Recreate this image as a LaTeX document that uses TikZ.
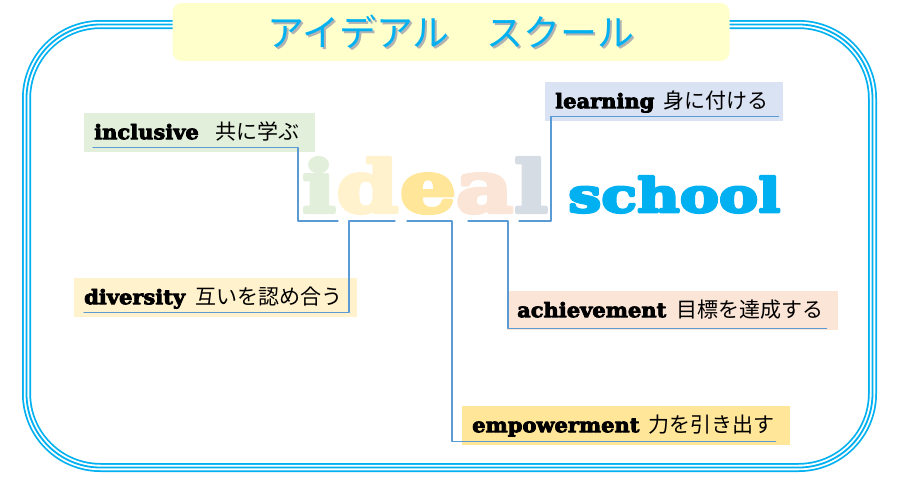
\documentclass[tikz,border=0pt]{standalone}
\usepackage{fontspec}
\usetikzlibrary{positioning}
\newfontfamily\slab[FakeBold=4, FakeStretch=1.05]{DejaVu Serif Bold}
\newfontfamily\wide[FakeBold=6, FakeStretch=1.25]{DejaVu Serif Bold}
\newfontfamily\jp{Noto Sans CJK JP}
\newcommand\eng[1]{{\slab\fontsize{20}{20}\selectfont #1}}
\definecolor{cSky}{HTML}{00B0F0}
\definecolor{cTitle}{HTML}{FFFFCC}
\definecolor{cLink}{HTML}{5B9BD5}
\definecolor{cInc}{HTML}{E2EFDA}
\definecolor{cDiv}{HTML}{FFF2CC}
\definecolor{cEmp}{HTML}{FFE699}
\definecolor{cAch}{HTML}{FBE5D6}
\definecolor{cLea}{HTML}{DAE3F3}
\definecolor{cEll}{HTML}{D6DCE4}
\begin{document}
\begin{tikzpicture}[x=1pt,y=-1pt, line join=round, line cap=round,
    frame/.style={rounded corners=74pt},
    tag/.style={anchor=north west, inner xsep=10pt, inner ysep=0pt, text height=26pt, text depth=13pt,
        font=\jp\fontsize{21}{21}\selectfont, execute at end node={\hspace{5pt}}},
    link/.style={draw=cLink, line width=1.1pt},
    letter/.style={anchor=base, inner sep=0pt, font=\wide\fontsize{71}{71}\selectfont}]
    \def\yb{9} % bracket below baseline
    \useasboundingbox (0,0) rectangle (900,479);
    % frame
    \draw[frame, cSky, line width=9pt] (26.5,24.5) rectangle (872.5,467.5);
    \draw[frame, white, line width=5.5pt] (26.5,24.5) rectangle (872.5,467.5);
    \draw[frame, cSky, line width=1.8pt] (26.5,24.5) rectangle (872.5,467.5);
    % title
    \node[fill=cTitle, rounded corners=9pt, minimum width=557pt, minimum height=58pt] (title) at (451,32) {};
    \node[text=black!30, font=\jp\fontsize{37}{37}\selectfont] at ([xshift=2pt,yshift=-2pt]title.center) {アイデアル　スクール};
    \node[text=cSky, font=\jp\fontsize{37}{37}\selectfont] (head) at (title.center) {アイデアル　スクール};
    % ideal school
    \node[letter, text=cInc] (li) at (319,212) {i};
    \node[letter, text=cDiv] (ld) at (367.5,212) {d};
    \node[letter, text=cEmp] (le) at (428,212) {e};
    \node[letter, text=cAch] (la) at (484.5,212) {a};
    \node[letter, text=cEll] (ll) at (531,212) {l};
    \node[anchor=base west, inner sep=0pt, text=cSky, font=\wide\fontsize{47}{47}\selectfont,
        base right=20pt of ll] (school) {school};
    \foreach \n/\l/\r in {li/-21/19, ld/-18.5/27.5, le/-21/24, la/-16.5/23.5, ll/-12/20}{
        \coordinate (\n-a) at ([xshift=\l pt,yshift=-\yb pt]\n.base);
        \coordinate (\n-b) at ([xshift=\r pt,yshift=-\yb pt]\n.base);
    }
    % labels
    \node[tag, fill=cInc] (inc) at (84,113) {\eng{inclusive}\hspace{17pt}共に学ぶ};
    \node[tag, fill=cLea] (lea) at (545,82) {\eng{learning}\hspace{9pt}身に付ける};
    \node[tag, fill=cDiv] (div) at (74,278) {\eng{diversity}\hspace{10pt}互いを認め合う};
    \node[tag, fill=cAch] (ach) at (507,291) {\eng{achievement}\hspace{10pt}目標を達成する};
    \node[tag, fill=cEmp] (emp) at (462,406) {\eng{empowerment}\hspace{9pt}力を引き出す};
    % connectors
    \draw[link] ([xshift=9pt,yshift=5pt]inc.south west) -| (li-a) -- (li-b);
    \draw[link] ([xshift=10pt,yshift=5pt]div.south west) -| (ld-a) -- (ld-b);
    \draw[link] ([xshift=-14pt,yshift=4pt]emp.south east) -| (le-b) -- (le-a);
    \draw[link] ([xshift=-12pt,yshift=2pt]ach.south east) -| (la-b) -- (la-a);
    \draw[link] ([xshift=-5pt,yshift=5pt]lea.south east) -| (ll-b) -- (ll-a);
\end{tikzpicture}
\end{document}
